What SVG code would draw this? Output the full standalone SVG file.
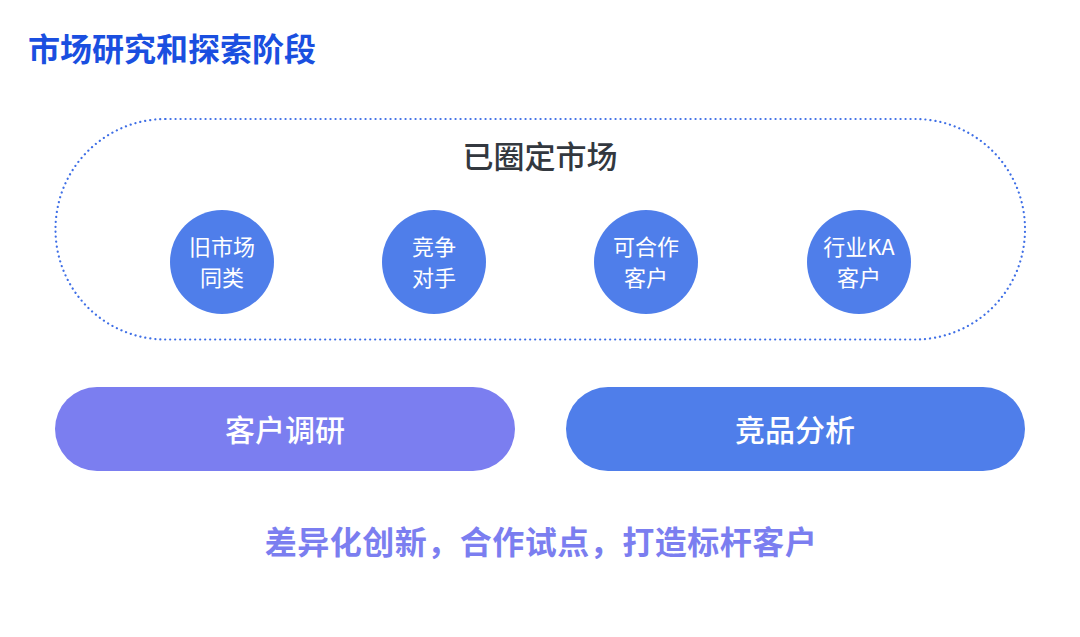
<svg xmlns="http://www.w3.org/2000/svg" width="1080" height="637" viewBox="0 0 1080 637">
<style>
text{font-family:"Noto Sans CJK SC","Noto Sans",sans-serif;text-anchor:middle}
.title{font-size:32px;font-weight:700;fill:#1A4FE0;text-anchor:start}
.head{font-size:31px;font-weight:500;fill:#33383F}
.circ{fill:#4F7EEA}
.ct{font-size:22px;fill:#FFFFFF;font-weight:400}
.pt{font-size:30px;fill:#FFFFFF;font-weight:500}
.foot{font-size:32px;fill:#7B7EF0;font-weight:700}
</style>
<rect width="1080" height="637" fill="#FFFFFF"/>
<text class="title" x="28" y="61">市场研究和探索阶段</text>
<g id="market">
<rect x="55.5" y="119" width="969.5" height="220.5" rx="110" ry="110" fill="none" stroke="#3F6FE6" stroke-width="2.2" stroke-dasharray="0.1 4.9" stroke-linecap="round"/>
<text class="head" x="540" y="168">已圈定市场</text>
</g>
<g id="c1"><circle class="circ" cx="222" cy="262" r="52"/><text class="ct" x="222" y="255">旧市场</text><text class="ct" x="222" y="286">同类</text></g>
<g id="c2"><circle class="circ" cx="434" cy="262" r="52"/><text class="ct" x="434" y="255">竞争</text><text class="ct" x="434" y="286">对手</text></g>
<g id="c3"><circle class="circ" cx="646" cy="262" r="52"/><text class="ct" x="646" y="255">可合作</text><text class="ct" x="646" y="286">客户</text></g>
<g id="c4"><circle class="circ" cx="859" cy="262" r="52"/><text class="ct" x="859" y="255">行业KA</text><text class="ct" x="859" y="286">客户</text></g>
<g id="p1"><rect x="55" y="387" width="460" height="84" rx="42" fill="#7B7EF0"/><text class="pt" x="285" y="441">客户调研</text></g>
<g id="p2"><rect x="566" y="387" width="459" height="84" rx="42" fill="#4F7EEA"/><text class="pt" x="795" y="441">竞品分析</text></g>
<g id="connectors"></g>
<text class="foot" x="541" y="554" letter-spacing="0.5">差异化创新，合作试点，打造标杆客户</text>
</svg>
